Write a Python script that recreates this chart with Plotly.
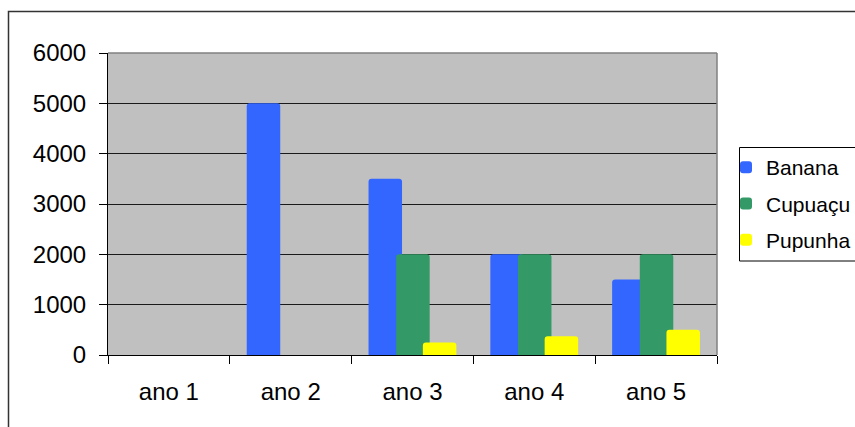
import plotly.graph_objects as go

# Production per year for each crop
anos = ["ano 1", "ano 2", "ano 3", "ano 4", "ano 5"]
banana = [0, 5000, 3500, 2000, 1500]
cupuacu = [0, 0, 2000, 2000, 2000]
pupunha = [0, 0, 250, 375, 500]

series = [
    ("Banana", banana, "#3366FF", -0.361),
    ("Cupuaçu", cupuacu, "#339966", -0.134),
    ("Pupunha", pupunha, "#FFFF00", 0.085),
]

W, H = 855, 427
L, R, T, B = 108, 717, 53, 355  # plot area edges in pixels

fig = go.Figure()
for i, (name, vals, color, off) in enumerate(series):
    fig.add_trace(go.Bar(
        x=anos, y=vals, name=name, legendgroup=name,
        width=0.275, offset=off,
        marker=dict(color=color, cornerradius=3, line=dict(width=0)),
    ))

pw, ph = R - L, B - T
font = "Liberation Sans, Arial, sans-serif"

def px_x(x):
    return (x - L) / pw

def px_y(y):
    return (B - y) / ph

fig.update_layout(
    width=W, height=H,
    margin=dict(l=L, r=W - R, t=T, b=H - B, pad=0, autoexpand=False),
    paper_bgcolor="white",
    plot_bgcolor="#C0C0C0",
    barmode="overlay",
    font=dict(family=font, size=24, color="black"),
    showlegend=True,
    legend=dict(
        x=px_x(726), xanchor="left",
        y=px_y(147), yanchor="top",
        borderwidth=0,
        bgcolor="rgba(0,0,0,0)",
        font=dict(size=21),
        tracegroupgap=6,
        itemwidth=30,
    ),
    xaxis=dict(
        showline=True, linecolor="black", linewidth=1,
        ticks="outside", ticklen=8, tickcolor="black", tickwidth=1,
        tickson="boundaries", showgrid=False,
        tickfont=dict(size=24),
        ticklabelstandoff=15,
        fixedrange=True,
    ),
    yaxis=dict(
        range=[0, 6000], dtick=1000, tick0=0,
        showline=True, linecolor="black", linewidth=1,
        ticks="outside", ticklen=8, tickcolor="black", tickwidth=1,
        showgrid=True, gridcolor="#1a1a1a", gridwidth=1,
        zeroline=False,
        tickfont=dict(size=24),
        ticklabelstandoff=8,
        fixedrange=True,
    ),
    shapes=[
        # gray border on top and right of the plot area
        dict(type="line", xref="paper", yref="paper", x0=0, x1=1, y0=1, y1=1,
             line=dict(color="#808080", width=1.5), layer="above"),
        dict(type="line", xref="paper", yref="paper", x0=1, x1=1, y0=0, y1=1,
             line=dict(color="#808080", width=1.5), layer="above"),
        # outer chart frame
        dict(type="rect", xref="paper", yref="paper",
             x0=px_x(8.5), x1=px_x(870), y0=px_y(440), y1=px_y(11.5),
             line=dict(color="#333333", width=1.5), layer="below"),
        # legend box
        dict(type="rect", xref="paper", yref="paper",
             x0=px_x(739.5), x1=px_x(870), y0=px_y(261), y1=px_y(147.5),
             line=dict(color="black", width=1), fillcolor="white",
             layer="below"),
    ],
)

fig.write_html("out.html")
